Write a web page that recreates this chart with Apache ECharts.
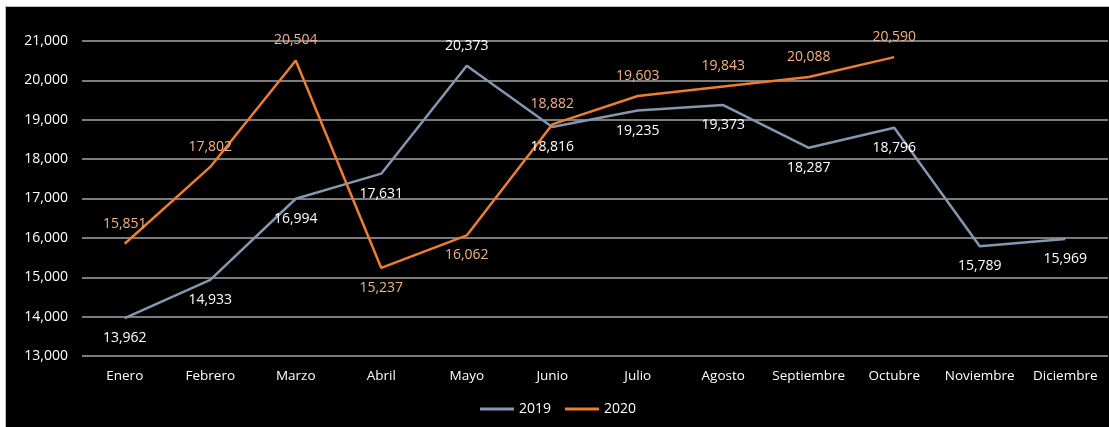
<!DOCTYPE html>
<html><head><meta charset="utf-8">
<script src="https://cdn.jsdelivr.net/npm/echarts@6/dist/echarts.min.js"></script>
<style>
html,body{margin:0;padding:0;background:#fff;width:1109px;height:427px;overflow:hidden}
#c{position:absolute;left:5px;top:6px;width:1104px;height:421px;background:#000;border-left:1px solid #bfbfbf;border-top:1px solid #bfbfbf}
</style></head><body>
<div id="c"></div>
<script>
const categories=['Enero','Febrero','Marzo','Abril','Mayo','Junio','Julio','Agosto','Septiembre','Octubre','Noviembre','Diciembre'];
const values2019=[13962,14933,16994,17631,20373,18816,19235,19373,18287,18796,15789,15969];
const values2020=[15851,17802,20504,15237,16062,18882,19603,19843,20088,20590,null,null];
const yTicks={min:13000,max:21000,interval:1000};

const pos2019=['bottom','bottom','bottom','bottom','top','bottom','bottom','bottom','bottom','bottom','bottom','bottom'];
const pos2020=['top','top','top','bottom','bottom','top','top','top','top','top','top','top'];
const fmt=v=>v.toLocaleString('en-US');
const font='"Open Sans", "Noto Sans", sans-serif';
function items(vals,pos){return vals.map((v,i)=>({value:v,label:{position:pos[i]}}));}

const chart=echarts.init(document.getElementById('c'),null,{renderer:'canvas'});
chart.setOption({
  backgroundColor:'#000',
  animation:false,
  textStyle:{fontFamily:font},
  grid:{left:76,right:2,top:34,bottom:72,containLabel:false},
  legend:{bottom:7,left:'center',itemWidth:34,itemHeight:3,itemGap:14,icon:'rect',
    textStyle:{color:'#fff',fontSize:14,fontFamily:font},data:['2019','2020']},
  xAxis:{type:'category',data:categories,boundaryGap:true,
    axisLine:{show:false},axisTick:{show:false},
    axisLabel:{color:'#fff',fontSize:13.5,margin:13,fontFamily:font,interval:0}},
  yAxis:{type:'value',min:yTicks.min,max:yTicks.max,interval:yTicks.interval,
    axisLine:{show:false},axisTick:{show:false},
    axisLabel:{color:'#fff',fontSize:14,margin:14,fontFamily:font,formatter:v=>fmt(v)},
    splitLine:{lineStyle:{color:'#a6a6a6',width:1.5}}},
  series:[
    {name:'2019',type:'line',data:items(values2019,pos2019),symbol:'circle',symbolSize:0.1,showSymbol:true,
     lineStyle:{color:'#8497b0',width:2.5},itemStyle:{color:'#8497b0'},
     label:{show:true,color:'#fff',fontSize:14,distance:13,fontFamily:font,formatter:p=>fmt(p.value)}},
    {name:'2020',type:'line',data:items(values2020,pos2020),symbol:'circle',symbolSize:0.1,showSymbol:true,
     lineStyle:{color:'#ed7d31',width:2.5},itemStyle:{color:'#ed7d31'},
     label:{show:true,color:'#f4b183',fontSize:14,distance:13,fontFamily:font,formatter:p=>p.value==null?'':fmt(p.value)}}
  ]
});
</script>
</body></html>
